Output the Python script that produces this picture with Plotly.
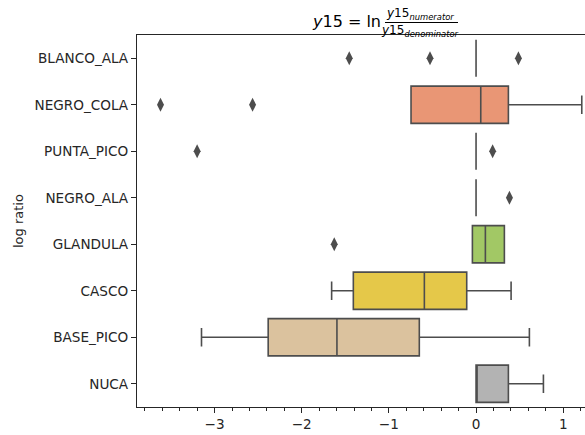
import colorsys
import plotly.graph_objects as go

# Log-ratio summaries per body region (values on the x axis)
categories = ["BLANCO_ALA", "NEGRO_COLA", "PUNTA_PICO", "NEGRO_ALA",
              "GLANDULA", "CASCO", "BASE_PICO", "NUCA"]
q1 = [0.0, -0.746, 0.0, 0.0, -0.042, -1.408, -2.385, 0.0]
median = [0.0, 0.054, 0.0, 0.0, 0.107, -0.593, -1.596, 0.0]
q3 = [0.0, 0.371, 0.0, 0.0, 0.325, -0.107, -0.651, 0.371]
whisker_low = [0.0, -0.746, 0.0, 0.0, -0.042, -1.657, -3.15, 0.0]
whisker_high = [0.0, 1.213, 0.0, 0.0, 0.325, 0.402, 0.612, 0.773]
outliers = [
    [-1.455, -0.528, 0.486],
    [-3.62, -2.564],
    [-3.2, 0.19],
    [0.383],
    [-1.627],
    [],
    [],
    [],
]

# Set2 palette, desaturated like seaborn's default box colours
set2 = ["#66c2a5", "#fc8d62", "#8da0cb", "#e78ac3",
        "#a6d854", "#ffd92f", "#e5c494", "#b3b3b3"]


def desaturate(hex_color, prop=0.75):
    r, g, b = (int(hex_color[i:i + 2], 16) / 255 for i in (1, 3, 5))
    h, l, s = colorsys.rgb_to_hls(r, g, b)
    r, g, b = colorsys.hls_to_rgb(h, l, s * prop)
    return "#%02x%02x%02x" % (round(r * 255), round(g * 255), round(b * 255))


fills = [desaturate(c) for c in set2]
edge = "#4d4d4d"
ink = "#262626"
font = "DejaVu Sans"

W, H = 585, 435
L, R, T, B = 137, 0, 35, 28


def px(x):
    return (x - L) / (W - L - R)


def py(y):
    return (H - B - y) / (H - T - B)


fig = go.Figure()
for i, cat in enumerate(categories):
    fig.add_trace(go.Box(
        y=[cat], orientation="h",
        q1=[q1[i]], median=[median[i]], q3=[q3[i]],
        lowerfence=[whisker_low[i]], upperfence=[whisker_high[i]],
        width=0.8, whiskerwidth=0.5,
        fillcolor=fills[i], line=dict(color=edge, width=1.6),
        boxpoints=False, showlegend=False,
    ))
    if outliers[i]:
        fig.add_trace(go.Scatter(
            x=outliers[i], y=[cat] * len(outliers[i]), mode="markers",
            marker=dict(symbol="diamond-tall", size=10, color=edge),
            showlegend=False,
        ))

title_font = dict(family=font, size=16, color="black")
sub_font = dict(family=font, size=12, color="black")
annotations = [
    dict(text="<i>y</i>15 = ln", x=px(383), y=py(21), xanchor="right",
         yanchor="middle", font=title_font),
    dict(text="<i>y</i>15<sub><i>numerator</i></sub>", x=px(420), y=py(14),
         xanchor="center", yanchor="middle", font=sub_font),
    dict(text="<i>y</i>15<sub><i>denominator</i></sub>", x=px(420), y=py(31),
         xanchor="center", yanchor="middle", font=sub_font),
    dict(text="log ratio", x=px(18), y=py(221), textangle=-90,
         xanchor="center", yanchor="middle",
         font=dict(family=font, size=13, color=ink)),
]
for a in annotations:
    a.update(xref="paper", yref="paper", showarrow=False)

fig.update_layout(
    width=W, height=H,
    margin=dict(l=L, r=R, t=T, b=B),
    paper_bgcolor="white", plot_bgcolor="white",
    boxmode="overlay",
    font=dict(family=font, size=13.6, color=ink),
    annotations=annotations,
    shapes=[dict(type="line", xref="paper", yref="paper",
                 x0=px(385), x1=px(458), y0=py(22.5), y1=py(22.5),
                 line=dict(color="black", width=1))],
)
fig.update_xaxes(
    range=[-3.89, 1.25], showgrid=False, zeroline=False,
    showline=True, linecolor=ink, linewidth=1.2, mirror=True,
    ticks="outside", ticklen=5, tickcolor=ink, dtick=1, tick0=0,
    minor=dict(ticks="outside", ticklen=3, dtick=0.2, tick0=0,
               tickcolor=ink, showgrid=False),
    tickfont=dict(family=font, size=13.6, color=ink),
)
fig.update_yaxes(
    type="category", categoryorder="array", categoryarray=categories,
    range=[len(categories) - 0.5, -0.5], showgrid=False, zeroline=False,
    showline=True, linecolor=ink, linewidth=1.2,
    ticks="outside", ticklen=5, tickcolor=ink,
    tickfont=dict(family=font, size=13.6, color=ink),
)

fig.write_html("out.html")
